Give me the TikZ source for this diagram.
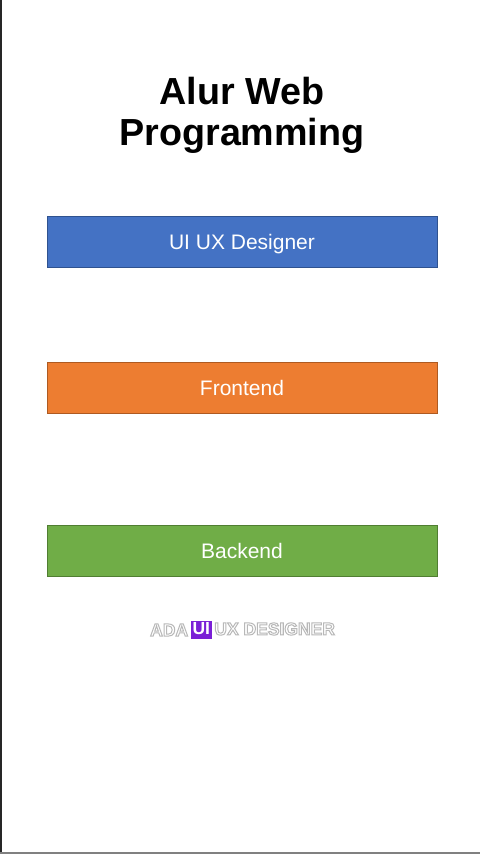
\documentclass[tikz,border=0pt]{standalone}
\usepackage{fontspec}
\setmainfont{Liberation Sans}
\usetikzlibrary{positioning}

\definecolor{uiblue}{HTML}{4472C4}
\definecolor{uibluedark}{HTML}{2F528F}
\definecolor{feorange}{HTML}{ED7D31}
\definecolor{feorangedark}{HTML}{AE5A21}
\definecolor{begreen}{HTML}{70AD47}
\definecolor{begreendark}{HTML}{507E32}
\definecolor{wmpurple}{HTML}{7A1FD6}

% white letters with a grey rim (fill, then stroke)
\newcommand{\wmtext}[1]{\special{pdf:literal 2 Tr 1 w 0.72 G}#1\special{pdf:literal 0 Tr 0 G}}

\begin{document}
\begin{tikzpicture}[x=1pt, y=-1pt, node distance=2pt,
    stage/.style={rectangle, draw, line width=1pt, minimum width=390pt, minimum height=51pt, text=white, text height=15pt, text depth=0pt, font=\fontsize{21}{25}\selectfont},
    wm/.style={inner sep=0pt, text=white, font=\fontsize{17.5}{20}\selectfont\bfseries}]
		\useasboundingbox (0,0) rectangle (480,854);
		\fill[white] (0,0) rectangle (480,854);
		\draw[line width=2pt, black!85] (1,0) -- (1,854);
		\draw[line width=1.5pt, gray] (0,853) -- (480,853);

		\node[anchor=base, align=center, font=\fontsize{37.7}{41}\selectfont\bfseries] (title) at (242,145) {Alur Web\\Programming};

		\node[stage, fill=uiblue, draw=uibluedark] (ui) at (242,241.5) {UI UX Designer};
		\node[stage, fill=feorange, draw=feorangedark] (fe) at (242,387.5) {Frontend};
		\node[stage, fill=begreen, draw=begreendark] (be) at (242,550.5) {Backend};

		\node[wm, anchor=base west] (ada) at (150,636) {\wmtext{ADA}};
		\node[wm, right=of ada, fill=wmpurple, inner xsep=2pt, text height=14pt, text depth=4pt] (uilogo) {UI};
		\node[wm, right=of uilogo, anchor=base west] (uxd) at (uilogo.base east) {\wmtext{UX DESIGNER}};
	\end{tikzpicture}
\end{document}
